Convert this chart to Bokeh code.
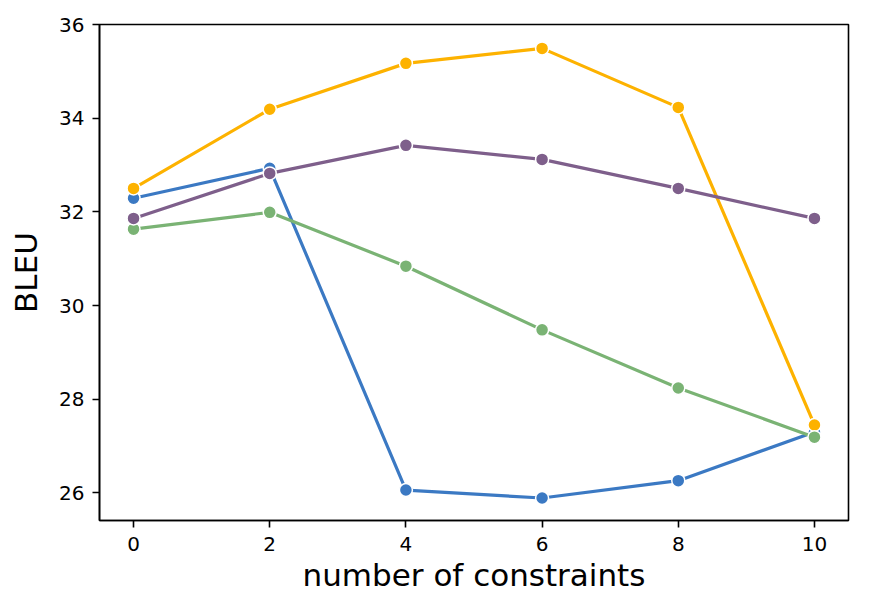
from bokeh.plotting import figure
from bokeh.embed import file_html
from bokeh.resources import INLINE
from bokeh.models import FixedTicker, Range1d

x_vals = [0, 2, 4, 6, 8, 10]
blue_vals = [32.29, 32.93, 26.06, 25.89, 26.26, 27.30]
orange_vals = [32.50, 34.19, 35.17, 35.49, 34.23, 27.45]
green_vals = [31.63, 31.99, 30.84, 29.48, 28.24, 27.19]
purple_vals = [31.86, 32.82, 33.42, 33.12, 32.50, 31.86]

x_ticks = [0, 2, 4, 6, 8, 10]
y_ticks = [26, 28, 30, 32, 34, 36]

series = [
    (blue_vals, "#3b79c3"),
    (orange_vals, "#fdb200"),
    (green_vals, "#7ab374"),
    (purple_vals, "#7e5f8b"),
]

p = figure(width=856, height=597, output_backend="svg", toolbar_location=None,
           x_range=Range1d(-0.5, 10.5), y_range=Range1d(25.41, 36.0),
           min_border_left=99, min_border_right=8, min_border_top=24, min_border_bottom=77)
p.xgrid.visible = False
p.ygrid.visible = False
p.outline_line_color = "black"
p.outline_line_width = 1.6
p.background_fill_color = "white"
p.border_fill_color = "white"

for vals, col in series:
    p.line(x_vals, vals, line_color=col, line_width=3.2)
    p.scatter(x_vals, vals, size=13, fill_color=col, line_color="white", line_width=1.5)

for ax in (p.xaxis[0], p.yaxis[0]):
    ax.axis_line_color = "black"
    ax.axis_line_width = 1.6
    ax.major_tick_line_color = "black"
    ax.major_tick_line_width = 1.6
    ax.major_tick_out = 7
    ax.major_tick_in = 0
    ax.minor_tick_line_color = None
    ax.major_label_text_font = "DejaVu Sans"
    ax.major_label_text_font_size = "20px"
    ax.major_label_text_color = "black"
    ax.axis_label_text_font = "DejaVu Sans"
    ax.axis_label_text_font_size = "31px"
    ax.axis_label_text_font_style = "normal"
    ax.axis_label_text_color = "black"

p.xaxis.ticker = FixedTicker(ticks=x_ticks)
p.yaxis.ticker = FixedTicker(ticks=y_ticks)
p.xaxis.axis_label = "number of constraints"
p.yaxis.axis_label = "BLEU"
p.xaxis.major_label_standoff = 9
p.yaxis.major_label_standoff = 8
p.xaxis.axis_label_standoff = 3
p.yaxis.axis_label_standoff = 12

open("out.html", "w").write(file_html(p, INLINE))
